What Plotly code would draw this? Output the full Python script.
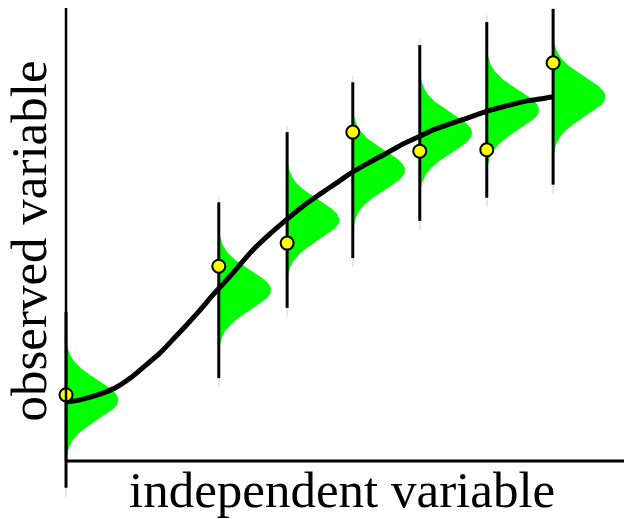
import numpy as np
import plotly.graph_objects as go

# ---- data (arbitrary units) ----
dist_x = [0.0, 2.28, 3.30, 4.28, 5.28, 6.28, 7.27]          # where the densities sit
dist_center = [1.35, 3.77, 5.32, 6.42, 7.24, 7.75, 8.04]    # mean of each density
obs_y = [1.46, 4.30, 4.81, 7.26, 6.84, 6.87, 8.79]          # observed points

curve_x = [0.0, 0.21, 0.55, 0.73, 0.96, 1.21, 1.40, 1.60, 1.81, 2.00, 2.19, 2.45,
           2.79, 3.04, 3.30, 3.54, 3.79, 4.04, 4.28, 4.54, 4.79, 5.03, 5.28,
           5.48, 5.73, 5.99, 6.30, 6.58, 6.88, 7.07, 7.27]
curve_y = [1.30, 1.35, 1.50, 1.61, 1.83, 2.14, 2.38, 2.69, 3.02, 3.33, 3.66, 4.08,
           4.66, 5.01, 5.34, 5.63, 5.89, 6.14, 6.38, 6.60, 6.80, 7.00, 7.17,
           7.31, 7.44, 7.57, 7.73, 7.84, 7.95, 7.99, 8.04]

SIGMA = 0.44        # density spread (y units)
TRUNC = 1.26        # density drawn to +/- this
PEAK_W = 0.78       # density peak width (x units)
BAR_HALF = 1.94     # half length of vertical bars
X_MAX = 8.42
Y_MAX = 10.0

fig = go.Figure()

# green densities
for xi, c in zip(dist_x, dist_center):
    yy = np.linspace(c - TRUNC, c + TRUNC, 121)
    xx = xi + PEAK_W * np.exp(-(yy - c) ** 2 / (2 * SIGMA ** 2))
    fig.add_trace(go.Scatter(
        x=np.concatenate([[xi], xx, [xi]]),
        y=np.concatenate([[c - TRUNC], yy, [c + TRUNC]]),
        fill="toself", fillcolor="#00ff00", mode="lines",
        line=dict(width=0, color="#00ff00"), hoverinfo="skip", showlegend=False))

# faint tails and vertical bars
for xi, c in zip(dist_x, dist_center):
    fig.add_trace(go.Scatter(
        x=[xi, xi], y=[c - BAR_HALF - 0.2, c + BAR_HALF + 0.15], mode="lines",
        line=dict(width=2, color="#e6e6e6"), hoverinfo="skip", showlegend=False))
    fig.add_trace(go.Scatter(
        x=[xi, xi], y=[c - BAR_HALF, c + BAR_HALF], mode="lines",
        line=dict(width=3, color="black"), hoverinfo="skip", showlegend=False))

# fitted curve
fig.add_trace(go.Scatter(
    x=curve_x, y=curve_y, mode="lines",
    line=dict(width=5, color="black", shape="spline", smoothing=0.8),
    showlegend=False))

# observations
fig.add_trace(go.Scatter(
    x=dist_x, y=obs_y, mode="markers", cliponaxis=False,
    marker=dict(size=13, color="#ffff00", line=dict(width=2, color="black")),
    showlegend=False))

# axis spines
fig.add_shape(type="line", x0=0, y0=0, x1=0, y1=Y_MAX, xref="x", yref="y",
              line=dict(color="black", width=2.5))
fig.add_shape(type="line", x0=0, y0=0, x1=X_MAX, y1=0, xref="x", yref="y",
              line=dict(color="black", width=3))

font = dict(family="Liberation Serif, Times New Roman, serif", size=51, color="black")
fig.add_annotation(text="independent variable", xref="paper", yref="paper",
                   x=0.528, y=0.071, xanchor="center", yanchor="middle",
                   showarrow=False, font=font)
fig.add_annotation(text="observed variable", xref="paper", yref="paper",
                   x=0.034, y=0.551, xanchor="center", yanchor="middle",
                   textangle=-90, showarrow=False, font=font)

fig.update_layout(
    width=632, height=519,
    margin=dict(l=0, r=0, t=0, b=0),
    paper_bgcolor="white", plot_bgcolor="white",
    xaxis=dict(range=[-0.866, 8.567], visible=False),
    yaxis=dict(range=[-1.457, 10.0], visible=False),
)

fig.write_html("out.html")
